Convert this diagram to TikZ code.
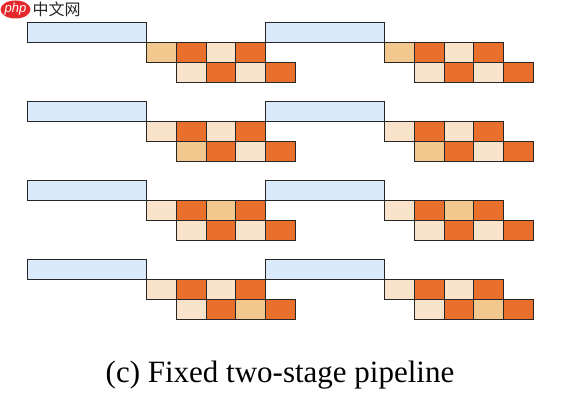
\documentclass[tikz,border=0pt]{standalone}
\usepackage{fontspec}
\usetikzlibrary{shapes.geometric}
\setmainfont{Liberation Serif}
\newfontfamily\cjkfont{Noto Sans CJK SC}
\newfontfamily\logofont{Liberation Sans}
\definecolor{bluefill}{HTML}{DAEAFB}
\definecolor{lightcell}{HTML}{F9E3CB}
\definecolor{darkcell}{HTML}{E9702C}
\definecolor{hicell}{HTML}{F2C88F}
\definecolor{logored}{HTML}{E4282B}
\tikzset{
  x=1pt,y=-1pt,
  base/.style={draw=black!85,line width=0.8pt,inner sep=0pt,outer sep=0pt,anchor=north west,minimum height=20pt},
  blockbox/.style={base,fill=bluefill,minimum width=119pt},
  lightbox/.style={base,fill=lightcell,minimum width=29.7pt},
  darkbox/.style={base,fill=darkcell,minimum width=29.7pt},
  hibox/.style={base,fill=hicell,minimum width=29.7pt},
}
\begin{document}
\begin{tikzpicture}
\useasboundingbox (0,0) rectangle (582,404);
\foreach \r/\y/\ua/\ub/\uc/\la/\lb in {
  0/22/hibox/lightbox/lightbox/lightbox/lightbox,
  1/101.3/lightbox/lightbox/lightbox/hibox/lightbox,
  2/180.5/lightbox/hibox/lightbox/lightbox/lightbox,
  3/259.8/lightbox/lightbox/lightbox/lightbox/hibox}{
  \foreach \u/\x in {0/27.6,1/265.5}{
    \node[blockbox] (b\r\u) at (\x,\y) {};
    \node[\ua] (ua\r\u) at (b\r\u.south east) {};
    \node[darkbox] (ub\r\u) at (ua\r\u.north east) {};
    \node[\ub] (uc\r\u) at (ub\r\u.north east) {};
    \node[darkbox] (ud\r\u) at (uc\r\u.north east) {};
    \node[\la] (la\r\u) at (ub\r\u.south west) {};
    \node[darkbox] (lb\r\u) at (la\r\u.north east) {};
    \node[\lb] (lc\r\u) at (lb\r\u.north east) {};
    \node[darkbox] (ld\r\u) at (lc\r\u.north east) {};
  }
}
\node[font=\fontsize{31}{33}\selectfont,anchor=base] (cap) at (280,382) {(c) Fixed two-stage pipeline};
\node[fill=logored,ellipse,minimum width=30pt,minimum height=18pt,inner sep=0pt] (logo) at (15.5,9.5) {};
\node[text=white,font=\logofont\itshape\fontsize{13}{14}\selectfont] (php) at (logo) {php};
\node[font=\cjkfont\fontsize{16}{17}\selectfont,anchor=west,inner sep=0pt,text=black!85] (cn) at (32.5,9.5) {中文网};
\end{tikzpicture}
\end{document}
